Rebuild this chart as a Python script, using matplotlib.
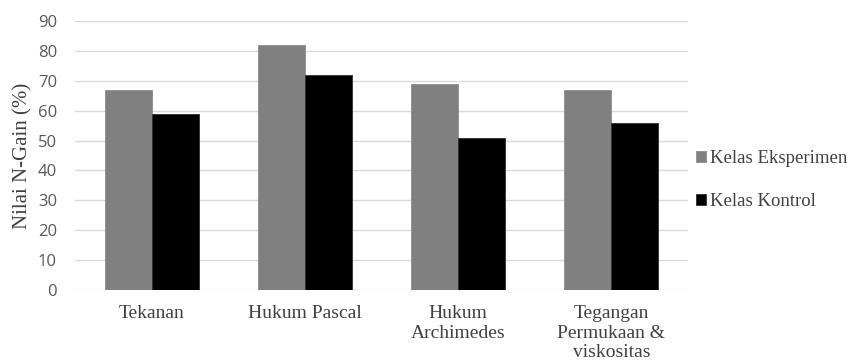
import matplotlib
matplotlib.use("Agg")
import matplotlib.pyplot as plt
import numpy as np

categories = ["Tekanan", "Hukum Pascal", "Hukum\nArchimedes", "Tegangan\nPermukaan &\nviskositas"]
eksperimen = [67, 82, 69, 67]
kontrol = [59, 72, 51, 56]
series_names = ["Kelas Eksperimen", "Kelas Kontrol"]
yticks = list(range(0, 100, 10))

fig = plt.figure(figsize=(8.55, 3.64), dpi=100)
ax = fig.add_axes([0.0877, 0.2033, 0.717, 0.739])

x = np.arange(len(categories))
w = 0.307
b1 = ax.bar(x - w/2, eksperimen, w, color="#808080", edgecolor="#8c8c8c", linewidth=0.6, label=series_names[0], zorder=3)
b2 = ax.bar(x + w/2, kontrol, w, color="#000000", edgecolor="#303030", linewidth=0.6, label=series_names[1], zorder=3)

ax.set_xlim(-0.5, len(categories) - 0.5)
ax.set_ylim(0, 90)
ax.set_yticks(yticks)
ax.yaxis.grid(True, color="#d9d9d9", linewidth=1.0, zorder=0)
ax.set_axisbelow(True)
for s in ax.spines.values():
    s.set_visible(False)
ax.tick_params(axis="both", length=0)
ax.tick_params(axis="y", labelsize=12, labelcolor="#595959", pad=13)
for lab in ax.get_yticklabels():
    lab.set_family(["Open Sans", "DejaVu Sans"])
ax.set_xticks(x)
ax.set_xticklabels(categories, family="Liberation Serif", fontsize=14, color="#404040", linespacing=1.2)
ax.tick_params(axis="x", pad=11)
ax.set_ylabel("Nilai N-Gain (%)", family="Liberation Serif", fontsize=15, color="#404040", labelpad=4)

fig.legend(handles=[b1, b2], labels=series_names, loc="center left", bbox_to_anchor=(0.814, 0.505),
           frameon=False, borderpad=0, borderaxespad=0,
           prop={"family": "Liberation Serif", "size": 13.5}, labelcolor="#404040",
           handlelength=0.55, handleheight=0.55, handletextpad=0.2, labelspacing=1.4)

fig.savefig("out.png", dpi=100)
